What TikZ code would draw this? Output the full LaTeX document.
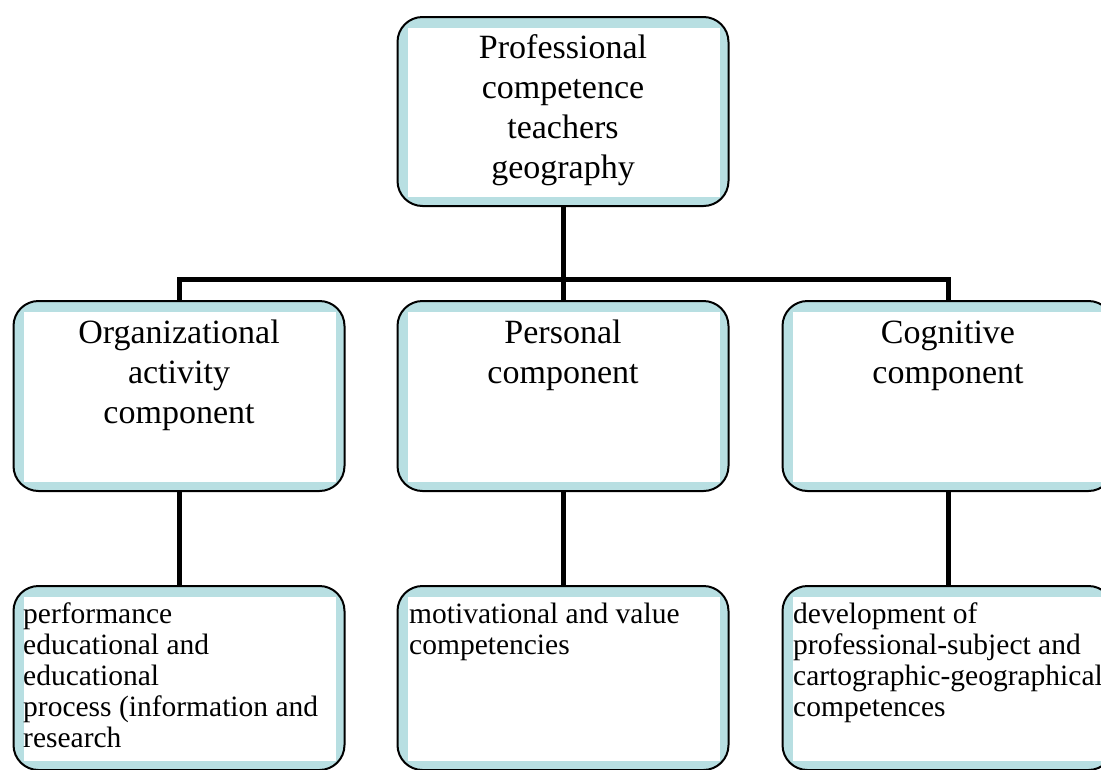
\documentclass[tikz,border=0pt]{standalone}
\usepackage{fontspec}
\setmainfont{Liberation Serif}
\usetikzlibrary{backgrounds}
\definecolor{bandblue}{RGB}{184,223,226}
\tikzset{
  cbox/.style={draw=black, line width=2pt, rounded corners=25pt, fill=bandblue,
    minimum width=331pt, inner sep=0pt,
    path picture={\fill[white, sharp corners] ([xshift=10.5pt,yshift=-11pt]path picture bounding box.north west)
      rectangle ([xshift=-9pt,yshift=9pt]path picture bounding box.south east);}},
  bigtext/.style={font=\fontsize{34}{40}\selectfont, align=center, inner sep=0pt, anchor=base},
  smalltext/.style={font=\fontsize{29.5}{31.2}\selectfont, align=left, inner sep=0pt, anchor=base west},
  conn/.style={line width=5pt, black}
}
\begin{document}
\begin{tikzpicture}[x=1pt,y=-1pt]
\useasboundingbox (0,0) rectangle (1101,769);
\clip (0,0) rectangle (1101,769);
% boxes
\node[cbox, minimum height=189pt] (top) at (563,111.5) {};
\node[cbox, minimum height=190pt] (org) at (179,396) {};
\node[cbox, minimum height=190pt] (pers) at (563,396) {};
\node[cbox, minimum height=190pt] (cog) at (948,396) {};
\node[cbox, minimum height=184pt] (orgd) at (179,678) {};
\node[cbox, minimum height=184pt] (persd) at (563,678) {};
\node[cbox, minimum height=184pt] (cogd) at (948,678) {};
% texts (anchor = baseline of last line)
\node[bigtext] (toptxt) at (563,178) {Professional\\competence\\teachers\\geography};
\node[bigtext] (orgtxt) at (179,423) {Organizational\\activity\\component};
\node[bigtext] (perstxt) at (563,383) {Personal\\component};
\node[bigtext] (cogtxt) at (948,383) {Cognitive\\component};
\node[smalltext] (orgdtxt) at (23,747.8) {performance\\educational and\\educational\\process (information and\\research};
\node[smalltext] (persdtxt) at (409,654.2) {motivational and value\\competencies};
\node[smalltext] (cogdtxt) at (793,716.6) {development of\\professional-subject and\\cartographic-geographical\\competences};
% connectors
\coordinate (bar) at (563,279);
\begin{scope}[on background layer]
\draw[conn] (top.south) -- (pers.north);
\draw[conn] (org.north) |- (bar) -| (cog.north);
\draw[conn] (org.south) -- (orgd.north);
\draw[conn] (pers.south) -- (persd.north);
\draw[conn] (cog.south) -- (cogd.north);
\end{scope}
\end{tikzpicture}
\end{document}
